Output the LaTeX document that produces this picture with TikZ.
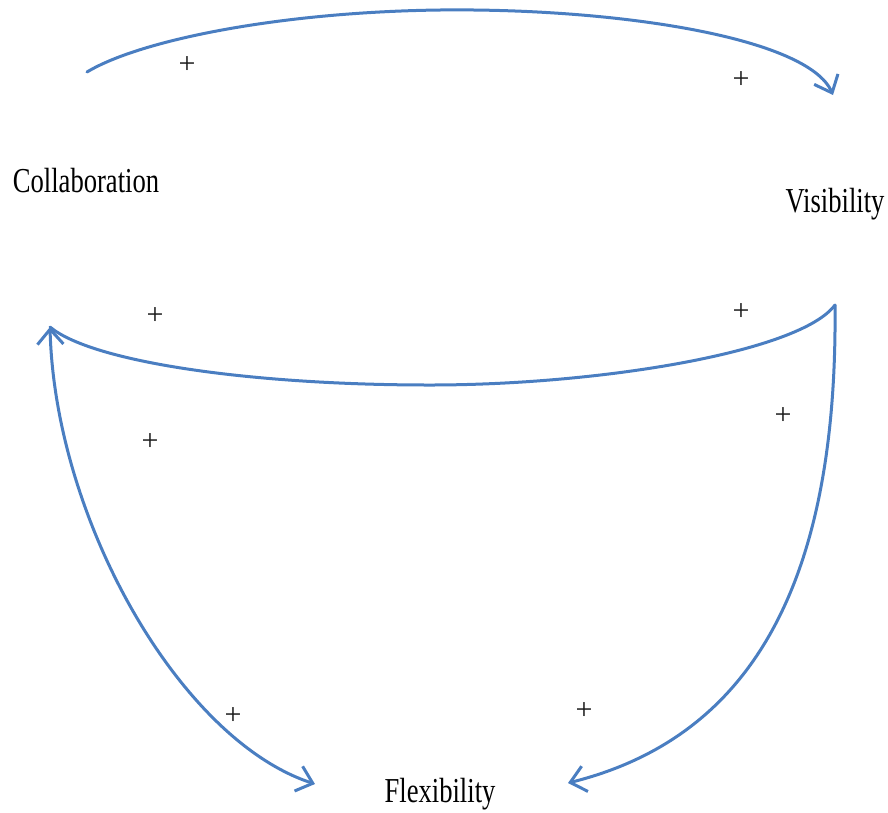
\documentclass[tikz,border=0pt]{standalone}
\usepackage{fontspec}
\setmainfont{Liberation Serif}
\usetikzlibrary{arrows.meta}
\definecolor{linkblue}{RGB}{74,126,193}
\tikzset{
  barb/.tip={Straight Barb[length=15pt,width=26pt,line width=3pt]},
  link/.style={draw=linkblue, line width=3pt, line cap=round, line join=round},
  factor/.style={anchor=base, inner sep=0pt, font=\fontsize{35}{40}\selectfont},
  sign/.style={inner sep=0pt, text=black!90, font=\fontsize{30}{30}\selectfont}
}
\newcommand{\narrow}[1]{\scalebox{0.76}[1]{#1}}
\begin{document}
\begin{tikzpicture}[x=1pt,y=-1pt]
  \useasboundingbox (0,0) rectangle (888,812);

  % the three factors
  \node[factor] (collab) at (86,192) {\narrow{Collaboration}};
  \node[factor] (visib)  at (835,212) {\narrow{Visibility}};
  \node[factor] (flex)   at (440,802) {\narrow{Flexibility}};

  % ends of the loops
  \coordinate (cTop) at (87,72);
  \coordinate (vTop) at (833,95);
  \coordinate (vMid) at (835,305);
  \coordinate (cMid) at (50,327);
  \coordinate (fLeft) at (315,784);
  \coordinate (fRight) at (568,783);

  % Collaboration -> Visibility
  \draw[link,-barb] (cTop) .. controls (140,40) and (280,12) .. (440,10)
                           .. controls (620,8) and (808,38) .. (vTop);

  % Visibility -> Collaboration
  \draw[link] (vMid) .. controls (800,352) and (600,385) .. (430,385)
                     .. controls (250,385) and (92,362) .. (cMid);

  % Collaboration <-> Flexibility
  \draw[link,barb-barb] (cMid) .. controls (55,520) and (180,740) .. (fLeft);

  % Visibility -> Flexibility
  \draw[link,-barb] (vMid) .. controls (838,600) and (740,740) .. (fRight);

  % polarity signs
  \node[sign] (p1) at (187,65)  {+};
  \node[sign] (p2) at (741,80)  {+};
  \node[sign] (p3) at (155,316) {+};
  \node[sign] (p4) at (741,312) {+};
  \node[sign] (p5) at (150,442) {+};
  \node[sign] (p6) at (783,416) {+};
  \node[sign] (p7) at (233,716) {+};
  \node[sign] (p8) at (584,711) {+};
\end{tikzpicture}
\end{document}
